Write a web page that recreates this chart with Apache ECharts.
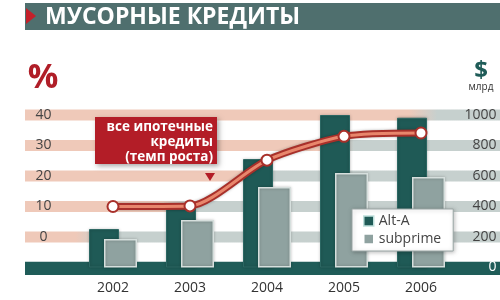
<!DOCTYPE html>
<html><head><meta charset="utf-8">
<script src="https://cdn.jsdelivr.net/npm/echarts@6/dist/echarts.min.js"></script>
<style>html,body{margin:0;padding:0;background:#fff}#c{width:500px;height:300px}</style>
</head><body><div id="c"></div>
<script>
const years = ['2002', '2003', '2004', '2005', '2006'];
const altA = [252, 390, 711, 1000, 982];
const subprime = [187, 311, 528, 620, 593];
const mortgageGrowth = [10, 10.2, 25.2, 33, 34.1];
const pctTicks = [0, 10, 20, 30, 40];
const usdTicks = [0, 200, 400, 600, 800, 1000];
const stripeSplit = [0.137, 0.312, 0.486, 0.663, 0.838];

const FONT = '"Open Sans", "DejaVu Sans", sans-serif';
const SALMON = '#efc9b9', GREY = '#c6d0ce', TEAL = '#1f5a56', SUB = '#8fa2a0', RED = '#b31d27';

function stripeColor(t) {
  return {type: 'linear', x: 0, y: 0, x2: 1, y2: 0, colorStops: [
    {offset: 0, color: SALMON}, {offset: Math.max(0, t - 0.03), color: SALMON},
    {offset: Math.min(1, t + 0.03), color: GREY}, {offset: 1, color: GREY}]};
}
const stripes = pctTicks.map((v, i) => [
  {yAxis: v - 1.8, itemStyle: {color: stripeColor(stripeSplit[i])}}, {yAxis: v + 1.8}]);

const chart = echarts.init(document.getElementById('c'), null, {renderer: 'canvas'});
chart.setOption({
  animation: false,
  backgroundColor: '#fff',
  textStyle: {fontFamily: FONT},
  grid: [
    {left: 74.5, right: 40.5, top: 115, bottom: 32.5},
    {left: 25, right: 0, top: 107.375, bottom: 24.875}
  ],
  xAxis: [
    {type: 'category', data: years, gridIndex: 0, axisLine: {show: false}, axisTick: {show: false},
     axisLabel: {fontSize: 14, color: '#333', margin: 14, fontFamily: FONT}},
    {type: 'value', gridIndex: 1, min: 0, max: 1, show: false}
  ],
  yAxis: [
    {type: 'value', gridIndex: 0, min: -10, max: 40, interval: 10, z: 20,
     axisLine: {show: false}, axisTick: {show: false}, splitLine: {show: false},
     axisLabel: {fontSize: 14, color: '#444', margin: 31, align: 'center', fontFamily: FONT,
       formatter: v => (v < 0 ? '' : String(v))}},
    {type: 'value', gridIndex: 0, min: 0, max: 1000, interval: 200, position: 'right', z: 20,
     axisLine: {show: false}, axisTick: {show: false}, splitLine: {show: false},
     axisLabel: {fontSize: 14, color: '#444', margin: 37, align: 'right', fontFamily: FONT,
       formatter: v => (v === 0 ? '{w|0}' : String(v)),
       rich: {w: {color: '#fff', fontSize: 14, fontFamily: FONT}}}},
    {type: 'value', gridIndex: 1, min: -12.5, max: 42.5, show: false}
  ],
  legend: {
    orient: 'vertical', left: 352, top: 209, padding: [5, 12, 5, 11], itemGap: 4,
    itemWidth: 10, itemHeight: 10, icon: 'rect', z: 30,
    backgroundColor: '#fff', borderColor: '#9aa6a5', borderWidth: 1,
    shadowBlur: 4, shadowColor: 'rgba(0,0,0,0.25)', shadowOffsetX: 1, shadowOffsetY: 1,
    textStyle: {fontSize: 14, color: '#444', fontFamily: FONT},
    data: [
      {name: 'Alt-A', itemStyle: {color: TEAL, borderColor: '#bfe0dc', borderWidth: 1.5}},
      {name: 'subprime', itemStyle: {color: SUB, borderColor: '#fff', borderWidth: 1.5}}
    ]
  },
  series: [
    {type: 'scatter', xAxisIndex: 1, yAxisIndex: 2, data: [[0.5, 0]], symbolSize: 0, z: 1, silent: true,
     markArea: {silent: true, data: stripes}},
    {type: 'bar', name: 'Alt-A', xAxisIndex: 0, yAxisIndex: 1, data: altA, barWidth: 30, barGap: '-50%', z: 3,
     itemStyle: {color: TEAL, borderColor: '#2c6763', borderWidth: 1, shadowBlur: 3, shadowColor: 'rgba(0,0,0,0.25)'}},
    {type: 'bar', name: 'subprime', xAxisIndex: 0, yAxisIndex: 1, data: subprime, barWidth: 33, z: 4,
     itemStyle: {color: SUB, borderColor: '#d6dfdd', borderWidth: 1.5, shadowBlur: 3, shadowColor: 'rgba(0,0,0,0.25)'}},
    {type: 'line', name: 'growthBack', xAxisIndex: 0, yAxisIndex: 0, data: mortgageGrowth, smooth: 0.25, z: 6,
     symbol: 'none', lineStyle: {color: '#a8302a', width: 7, shadowBlur: 3, shadowColor: 'rgba(0,0,0,0.3)'}},
    {type: 'line', name: 'growth', xAxisIndex: 0, yAxisIndex: 0, data: mortgageGrowth, smooth: 0.25, z: 7,
     symbol: 'circle', symbolSize: 11,
     lineStyle: {color: '#e8866c', width: 3},
     itemStyle: {color: '#fff', borderColor: '#a8302a', borderWidth: 2}},
    {type: 'scatter', xAxisIndex: 1, yAxisIndex: 2, data: [[0.5, 0]], symbolSize: 0, z: 10, silent: true,
     markArea: {silent: true, data: [[{yAxis: -12.46, itemStyle: {color: '#1f5c58'}}, {yAxis: -8.1}]]}}
  ],
  graphic: [
    {type: 'rect', shape: {x: 25, y: 3, width: 475, height: 27}, style: {fill: '#4f6f6e'}, z: 1},
    {type: 'polygon', shape: {points: [[26, 8], [36, 16], [26, 24]]}, style: {fill: '#c4202a'}, z: 2},
    {type: 'text', x: 45, y: 17, style: {text: 'МУСОРНЫЕ КРЕДИТЫ', fill: '#fff', font: 'bold 23px ' + FONT, textVerticalAlign: 'middle'}, z: 2},
    {type: 'text', x: 43, y: 78, style: {text: '%', fill: '#b01e28', font: 'bold 34px ' + FONT, textAlign: 'center', textVerticalAlign: 'middle'}, z: 2},
    {type: 'text', x: 481, y: 71, style: {text: '$', fill: '#1f5c58', font: 'bold 24px ' + FONT, textAlign: 'center', textVerticalAlign: 'middle'}, z: 2},
    {type: 'text', x: 481, y: 87, style: {text: 'млрд', fill: '#333', font: '10px ' + FONT, textAlign: 'center', textVerticalAlign: 'middle'}, z: 2},
    {type: 'rect', shape: {x: 95, y: 117, width: 122, height: 47}, style: {fill: RED, shadowBlur: 5, shadowOffsetX: 2, shadowOffsetY: 2, shadowColor: 'rgba(0,0,0,0.35)'}, z: 40},
    {type: 'text', x: 213, y: 142, style: {text: 'все ипотечные\nкредиты\n(темп роста)', fill: '#fff', font: 'bold 13.5px ' + FONT, textAlign: 'right', textVerticalAlign: 'middle', lineHeight: 15}, z: 41},
    {type: 'polygon', shape: {points: [[205, 173], [215, 173], [210, 181]]}, style: {fill: RED}, z: 40}
  ]
});
</script></body></html>
